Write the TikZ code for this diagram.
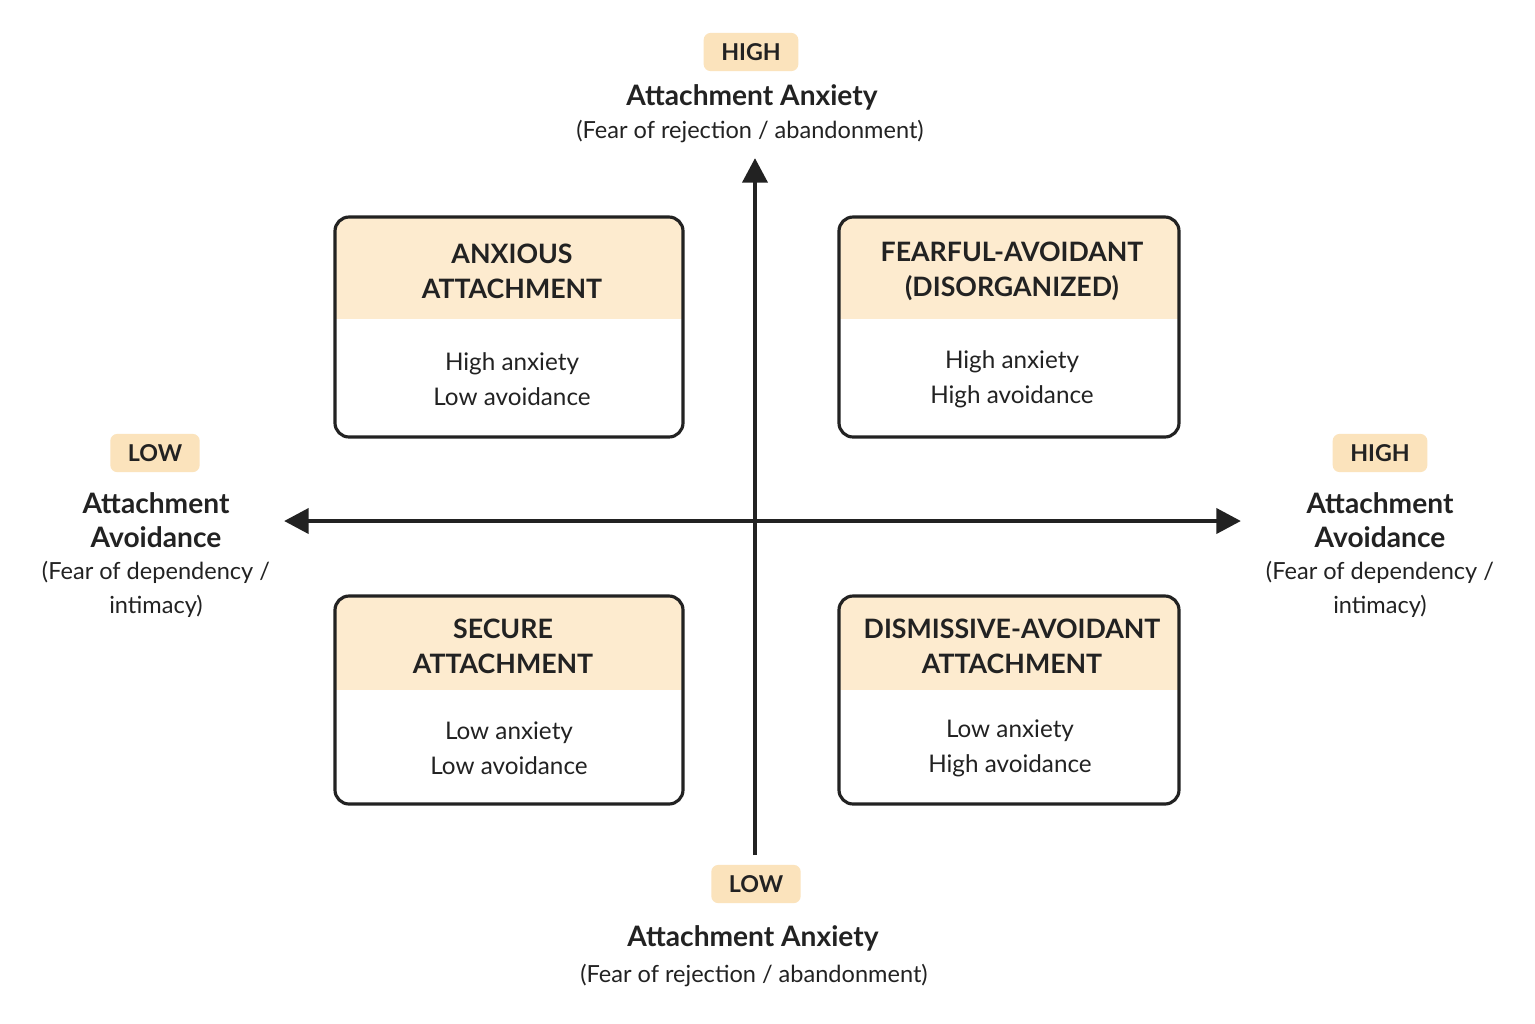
\documentclass[tikz,border=0pt]{standalone}
\usepackage{fontspec}
\setmainfont{Lato}
\usetikzlibrary{arrows.meta}
\definecolor{tagfill}{HTML}{FBE3BC}
\definecolor{headfill}{HTML}{FDEBCF}
\definecolor{ink}{HTML}{222222}
\tikzset{
  tag/.style={fill=tagfill, rounded corners=2pt, inner xsep=5pt, inner ysep=3pt, font=\fontsize{6.6}{7}\selectfont\bfseries, text=ink},
  head/.style={font=\fontsize{7.6}{10}\selectfont\bfseries, text=ink, align=center},
  body/.style={font=\fontsize{6.9}{10}\selectfont, text=ink, align=center},
  axtitle/.style={font=\fontsize{8}{9.8}\selectfont\bfseries, text=ink, align=center},
  axsub/.style={font=\fontsize{6.7}{9.6}\selectfont, text=ink, align=center},
  axis/.style={-{Triangle[length=7pt,width=7pt]}, line width=1.4pt, draw=ink},
}
% quadrant box: #1 name, #2 left, #3 right, #4 top, #5 header bottom, #6 bottom
\newcommand{\quadbox}[6]{%
  \begin{scope}
    \clip[rounded corners=4pt] (#2,#6) rectangle (#3,#4);
    \fill[white] (#2,#6) rectangle (#3,#4);
    \fill[headfill] (#2,#5) rectangle (#3,#4);
  \end{scope}
  \draw[ink, line width=0.9pt, rounded corners=4pt] (#2,#6) rectangle (#3,#4);
  \coordinate (#1) at ({(#2+#3)/2},{(#4+#6)/2});
}
\begin{document}
\begin{tikzpicture}[x=0.01cm, y=-0.01cm]
\useasboundingbox (0,0) rectangle (1535,1023);
\fill[white] (0,0) rectangle (1535,1023);

% quadrants
\quadbox{anx}{335}{683}{217}{319}{437}
\quadbox{fear}{839}{1179}{217}{319}{437}
\quadbox{sec}{335}{683}{596}{690}{804}
\quadbox{dis}{839}{1179}{596}{690}{804}

\node[head] (anxhead) at (512,271) {ANXIOUS\\ATTACHMENT};
\node[body] (anxbody) at (512,379) {High anxiety\\Low avoidance};
\node[head] (fearhead) at (1012,271) {FEARFUL-AVOIDANT\\(DISORGANIZED)};
\node[body] (fearbody) at (1012,379) {High anxiety\\High avoidance};
\node[head] (sechead) at (503,646) {SECURE\\ATTACHMENT};
\node[body] (secbody) at (509,748) {Low anxiety\\Low avoidance};
\node[head] (dishead) at (1012,646) {DISMISSIVE-AVOIDANT\\ATTACHMENT};
\node[body] (disbody) at (1010,748) {Low anxiety\\High avoidance};

% axes
\coordinate (vbot) at (755,855);
\coordinate (vtop) at (755,158);
\coordinate (hleft) at (284,521);
\coordinate (hright) at (1241,521);
\coordinate (origin) at (755,521);
\draw[axis] (origin) -- (hleft);
\draw[axis] (origin) -- (hright);
\draw[axis] (vbot) -- (vtop);

% axis labels
\node[tag] (tophigh) at (751,52) {HIGH};
\node[axtitle] (toptitle) at (752,97) {Attachment Anxiety};
\node[axsub] (topsub) at (750,131) {(Fear of rejection / abandonment)};

\node[tag] (botlow) at (756,884) {LOW};
\node[axtitle] (bottitle) at (753,938) {Attachment Anxiety};
\node[axsub] (botsub) at (754,975) {(Fear of rejection / abandonment)};

\node[tag] (leftlow) at (155,453) {LOW};
\node[axtitle] (lefttitle) at (156,520) {Attachment\\Avoidance};
\node[axsub] (leftsub) at (156,589) {(Fear of dependency /\\intimacy)};

\node[tag] (righthigh) at (1380,453) {HIGH};
\node[axtitle] (righttitle) at (1380,520) {Attachment\\Avoidance};
\node[axsub] (rightsub) at (1380,589) {(Fear of dependency /\\intimacy)};
\end{tikzpicture}
\end{document}
